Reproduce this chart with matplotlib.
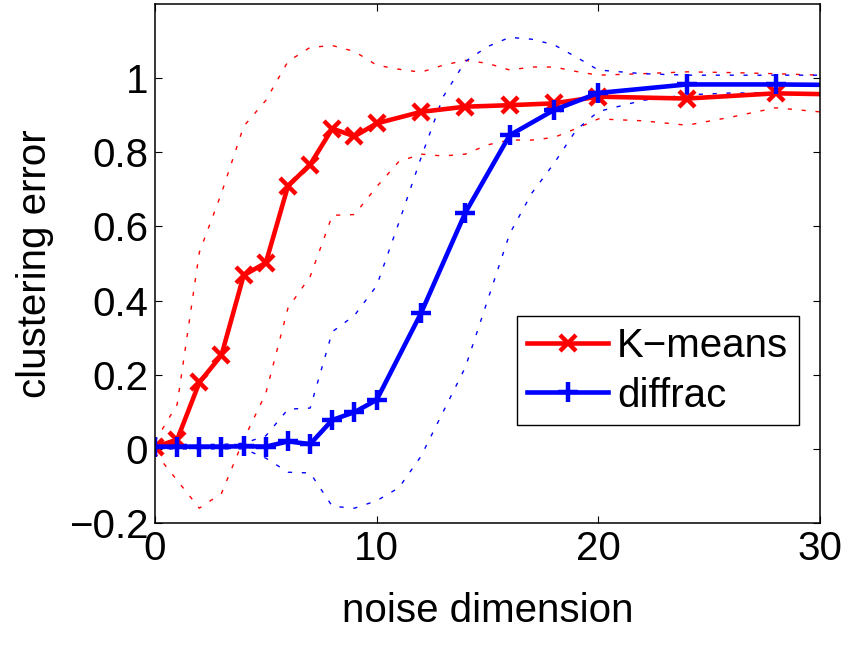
import matplotlib
matplotlib.use("Agg")
import matplotlib.pyplot as plt

plt.rcParams['font.family'] = ['Liberation Sans', 'DejaVu Sans']

# mean clustering error at each noise dimension
noise_dim = [0, 1, 2, 3, 4, 5, 6, 7, 8, 9, 10, 12, 14, 16, 18, 20, 24, 28, 32]
kmeans_err = [0.005, 0.025, 0.179, 0.253, 0.468, 0.502, 0.709, 0.767, 0.864, 0.843,
              0.878, 0.909, 0.923, 0.927, 0.932, 0.950, 0.945, 0.959, 0.955]
diffrac_err = [0.006, 0.006, 0.006, 0.006, 0.007, 0.006, 0.020, 0.013, 0.078, 0.099,
               0.132, 0.366, 0.637, 0.846, 0.914, 0.960, 0.983, 0.983, 0.981]

# mean +/- std envelopes (dotted)
band_x = [0, 1, 2, 3, 4, 5, 6, 7, 8, 9, 10, 11, 12, 13, 14, 15, 16, 17, 18, 19, 20,
          22, 24, 26, 28, 30]
kmeans_hi = [0.02, 0.12, 0.53, 0.69, 0.87, 0.94, 1.045, 1.083, 1.088, 1.072, 1.035,
             1.024, 1.016, 1.035, 1.048, 1.04, 1.022, 1.03, 1.03, 1.018, 1.008,
             1.012, 1.017, 1.015, 1.012, 1.008]
kmeans_lo = [-0.01, -0.085, -0.16, -0.12, 0.025, 0.15, 0.38, 0.465, 0.63, 0.632, 0.707,
             0.775, 0.795, 0.79, 0.795, 0.82, 0.833, 0.833, 0.84, 0.864, 0.89,
             0.885, 0.873, 0.895, 0.92, 0.909]
diffrac_hi = [0.012, 0.012, 0.012, 0.012, 0.015, 0.035, 0.107, 0.11, 0.316, 0.36, 0.44,
              0.61, 0.785, 0.95, 1.045, 1.085, 1.11, 1.105, 1.09, 1.057, 1.022,
              1.012, 1.008, 1.008, 1.008, 1.008]
diffrac_lo = [0.0, 0.0, 0.0, 0.0, 0.0, -0.025, -0.063, -0.065, -0.155, -0.16, -0.14,
              -0.105, -0.02, 0.10, 0.22, 0.40, 0.58, 0.69, 0.77, 0.86, 0.91,
              0.94, 0.955, 0.96, 0.96, 0.96]

xticks = [0, 10, 20, 30]
yticks = [-0.2, 0, 0.2, 0.4, 0.6, 0.8, 1]
ytick_labels = ['\u22120.2', '0', '0.2', '0.4', '0.6', '0.8', '1']

fig = plt.figure(figsize=(8.53, 6.51), dpi=100)
ax = fig.add_axes([155 / 853, 128 / 651, 665 / 853, 519 / 651])

# dotted std envelopes
dot = (0, (3, 7))
ax.plot(band_x, kmeans_hi, color='red', lw=1.0, ls=dot)
ax.plot(band_x, kmeans_lo, color='red', lw=1.0, ls=dot)
ax.plot(band_x, diffrac_hi, color='blue', lw=1.0, ls=dot)
ax.plot(band_x, diffrac_lo, color='blue', lw=1.0, ls=dot)

ax.plot(noise_dim, kmeans_err, color='red', lw=3.3, marker='x', ms=12, mew=3.2,
        label='K\u2212means')
ax.plot(noise_dim, diffrac_err, color='blue', lw=3.3, marker='+', ms=15, mew=3.2,
        label='diffrac')

ax.set_xlim(0, 30)
ax.set_ylim(-0.2, 1.2)
ax.set_xticks(xticks)
ax.set_yticks(yticks)
ax.set_yticklabels(ytick_labels)
ax.tick_params(direction='in', length=5, width=0.8, top=True, right=True,
               labelsize=29, pad=5)
for s in ax.spines.values():
    s.set_linewidth(1.1)

ax.set_xlabel('noise dimension', fontsize=29)
ax.set_ylabel('clustering error', fontsize=29)
ax.xaxis.set_label_coords(0.5, -0.133)
ax.yaxis.set_label_coords(-0.152, 0.5)

leg = ax.legend(loc='upper right', bbox_to_anchor=(0.9684, 0.3988), borderaxespad=0,
                fontsize=29, fancybox=False, framealpha=1, edgecolor='black',
                handlelength=2.0, handletextpad=0.22, borderpad=0.27,
                labelspacing=0.29)
leg.get_frame().set_linewidth(1.0)

fig.savefig('out.png', dpi=100)
